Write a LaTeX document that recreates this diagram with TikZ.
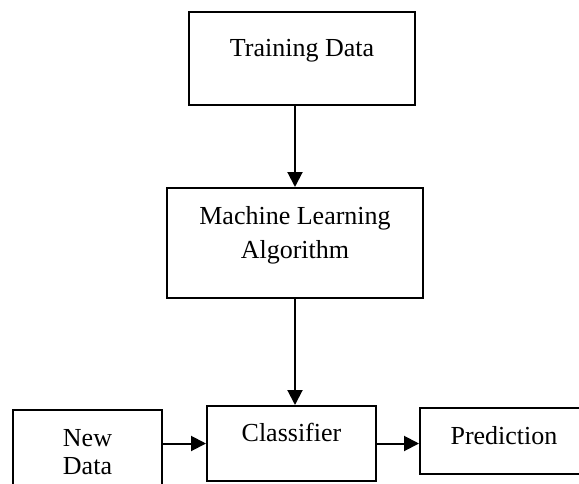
\documentclass[tikz,border=0pt]{standalone}
\usepackage{fontspec}
\setmainfont{Liberation Serif}
\usetikzlibrary{arrows.meta}
\begin{document}
\begin{tikzpicture}[>={Triangle[length=7.5pt,width=7.5pt]},x=0.5pt,y=-0.5pt,
	box/.style={draw,line width=1pt,anchor=north west,inner xsep=0pt,inner ysep=0pt,align=center,font=\fontsize{13}{17}\selectfont},
	flow/.style={->,line width=1pt}]
			\useasboundingbox (0,0) rectangle (579,483);
			\clip (0,0) rectangle (579,483);
			\node[box,minimum width=113pt,text height=22pt,text depth=24.5pt] (train) at (188,11) {Training Data};
			\node[box,minimum width=128pt,text height=35pt,text depth=20pt] (mla) at (166,187) {Machine Learning\\Algorithm};
			\node[box,minimum width=74.5pt,text height=32pt,text depth=11pt,font=\fontsize{13}{14}\selectfont] (newd) at (12,409) {New\\Data};
			\node[box,minimum width=84.5pt,text height=17.5pt,text depth=20pt] (clf) at (206,405) {Classifier};
			\node[box,minimum width=84pt,text height=18pt,text depth=15pt] (pred) at (419,407) {Prediction};
			\draw[flow] (train.south -| mla.north) -- (mla.north);
			\draw[flow] (mla.south) -- (clf.north -| mla.south);
			\draw[flow] (newd.east |- clf.west) -- (clf.west);
			\draw[flow] (clf.east) -- (pred.west |- clf.east);
	\end{tikzpicture}
\end{document}
